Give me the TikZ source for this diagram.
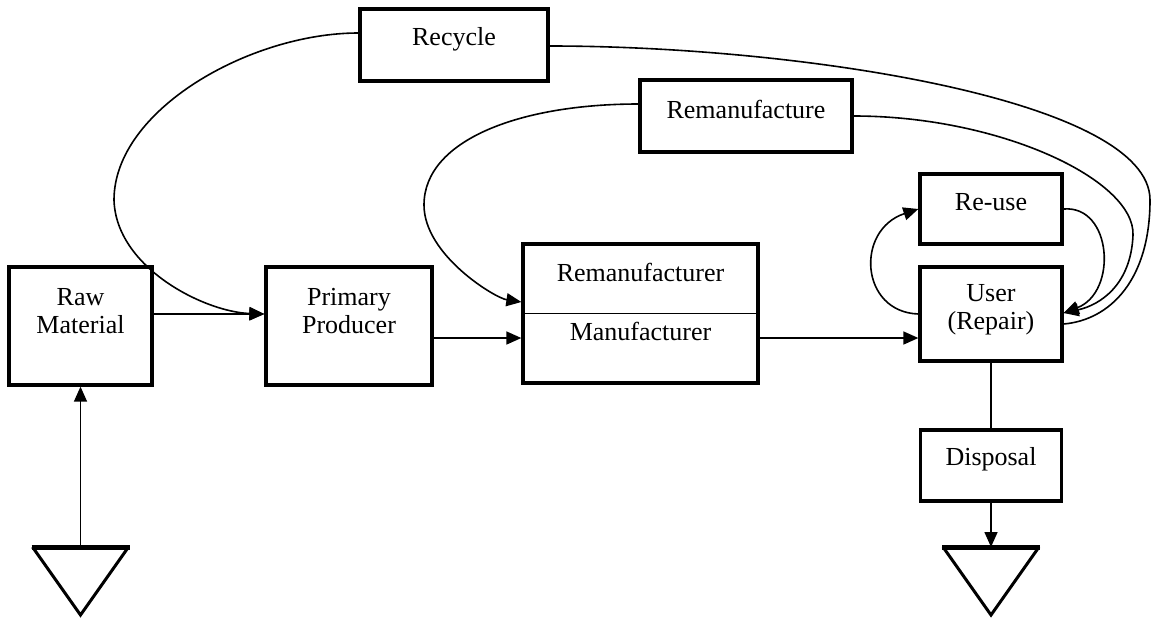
\documentclass[tikz,border=0pt]{standalone}
\usepackage{fontspec}
\setmainfont{Liberation Serif}
\usetikzlibrary{arrows.meta}

\begin{document}
\begin{tikzpicture}[
    x=1pt, y=-1pt, % Work in pixel-like units, y grows downwards
    >={Triangle[length=15pt, width=13pt]}, % Set default arrow tip style
    boxstyle/.style={draw, line width=3.3pt, inner sep=0pt}, % Style for process boxes
    textstyle/.style={align=center, font=\fontsize{26}{28}\selectfont}, % Style for box texts
    linkstyle/.style={line width=1.6pt}, % Style for plain connectors
    flow/.style={->, linkstyle}, % Style for connectors with an arrow
    sinkstyle/.style={line width=3pt, line join=miter} % Style for the triangles
]

    % Fix the page size
    \useasboundingbox (0,0) rectangle (1156,619);

    % Main chain of boxes
    \node[boxstyle, minimum width=143pt, minimum height=118pt,
          label={[textstyle, yshift=15pt]center:Raw\\Material}] (raw) at (80.5,326) {};
    \node[boxstyle, minimum width=166pt, minimum height=118pt,
          label={[textstyle, yshift=15pt]center:Primary\\Producer}] (prim) at (349,326) {};
    \node[boxstyle, minimum width=235pt, minimum height=139pt,
          label={[textstyle, yshift=41.5pt]center:Remanufacturer},
          label={[textstyle, yshift=-17.5pt]center:Manufacturer}] (reman) at (640.5,313.5) {};
    \node[boxstyle, minimum width=142pt, minimum height=94pt,
          label={[textstyle, yshift=4pt]center:User\\(Repair)}] (user) at (991,314) {};

    % Loop boxes
    \node[boxstyle, minimum width=142pt, minimum height=70pt,
          label={[textstyle, yshift=7pt]center:Re-use}] (reuse) at (991,209) {};
    \node[boxstyle, minimum width=212pt, minimum height=72pt,
          label={[textstyle, yshift=7pt]center:Remanufacture}] (remf) at (746,116) {};
    \node[boxstyle, minimum width=188pt, minimum height=72pt,
          label={[textstyle, yshift=6pt]center:Recycle}] (recyc) at (454,45) {};
    \node[boxstyle, minimum width=141pt, minimum height=71pt,
          label={[textstyle, yshift=6.5pt]center:Disposal}] (disp) at (991,465.5) {};

    % Source and sink triangles
    \coordinate (srcTop) at (80.5,547);
    \coordinate (sinkTop) at (991,547);
    \foreach \t in {srcTop, sinkTop} {
        \draw[sinkstyle] ([xshift=-48pt]\t) -- ([yshift=-68pt]\t) -- ([xshift=48pt]\t);
        \draw[line width=5pt] ([xshift=-49pt]\t) -- ([xshift=49pt]\t);
    }

    % Divider in the manufacturer box
    \draw[line width=1.2pt] (reman.west) -- (reman.east);

    % Forward flow
    \draw[flow] (srcTop) -- (raw.south);
    \draw[flow] ([yshift=12pt]raw.east) -- ([yshift=12pt]prim.west);
    \draw[flow] ([yshift=-12pt]prim.east) -- ([yshift=-24.5pt]reman.west);
    \draw[flow] ([yshift=-24.5pt]reman.east) -- ([yshift=-24pt]user.west);
    \draw[linkstyle] (user.south) -- (disp.north);
    \draw[flow] (disp.south) -- (sinkTop);

    % Re-use loop
    \draw[flow] (user.west) .. controls (860,312) and (855,230) .. (reuse.west);
    \draw[flow] (reuse.east) .. controls (1112,205) and (1118,292) .. ([yshift=1pt]user.east);

    % Remanufacture loop
    \draw[flow] ([yshift=12pt]remf.west) .. controls (520,104) and (424,140) .. (424,205)
        .. controls (424,255) and (495,298) .. ([yshift=11.5pt]reman.west);
    \draw[flow] (remf.east) .. controls (1000,116) and (1135,180) .. (1133,235)
        .. controls (1131,285) and (1100,305) .. ([yshift=1pt]user.east);

    % Recycle loop
    \draw[flow] ([yshift=12pt]recyc.west) .. controls (250,33) and (114,110) .. (114,200)
        .. controls (116,268) and (205,312) .. ([yshift=12pt]prim.west);
    \draw[linkstyle] ([yshift=-1pt]recyc.east) .. controls (800,46) and (1150,100) .. (1150,200)
        .. controls (1150,280) and (1110,320) .. ([yshift=-10pt]user.east);

\end{tikzpicture}
\end{document}
